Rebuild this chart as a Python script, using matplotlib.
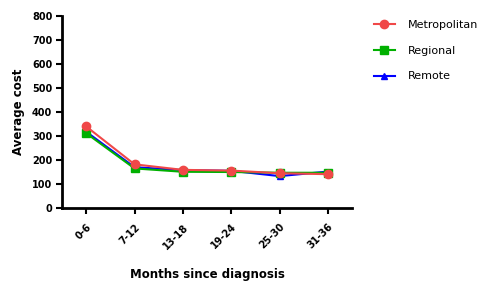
import matplotlib
matplotlib.use("Agg")
import matplotlib.pyplot as plt
import numpy as np

periods = ["0-6", "7-12", "13-18", "19-24", "25-30", "31-36"]
metropolitan = [340, 182, 159, 156, 145, 141]
regional = [312, 165, 151, 150, 147, 147]
remote = [318, 170, 158, 155, 133, 152]

plt.rcParams["font.family"] = ["DejaVu Sans"]

fig = plt.figure(figsize=(4.96, 2.83), dpi=100)
ax = fig.add_axes([0.125, 0.265, 0.585, 0.678])

x = np.arange(len(periods))
ax.plot(x, remote, color="#0000ff", marker="^", markersize=5, linewidth=1.5, label="Remote", zorder=3)
ax.plot(x, regional, color="#00b000", marker="s", markersize=5.5, linewidth=1.5, label="Regional", zorder=4)
ax.plot(x, metropolitan, color="#f04848", marker="o", markersize=6, linewidth=1.5, label="Metropolitan", zorder=5)

ax.set_xlim(-0.5, len(periods) - 0.5)
ax.set_ylim(0, 800)
ax.set_yticks(range(0, 801, 100))
ax.set_xticks(x)
ax.set_xticklabels(periods, rotation=45, ha="right", rotation_mode="anchor")
for lab in ax.get_xticklabels() + ax.get_yticklabels():
    lab.set_fontweight("bold")
    lab.set_fontsize(7)

for side in ["top", "right"]:
    ax.spines[side].set_visible(False)
for side in ["left", "bottom"]:
    ax.spines[side].set_linewidth(2)
ax.tick_params(width=1.5, length=4, pad=3)
ax.tick_params(axis="x", pad=6)

ax.set_ylabel("Average cost", fontsize=8.5, fontweight="bold", labelpad=5)
ax.set_xlabel("Months since diagnosis", fontsize=8.5, fontweight="bold", labelpad=12)

handles, labels = ax.get_legend_handles_labels()
ax.legend(handles[::-1], labels[::-1], loc="upper left", bbox_to_anchor=(1.04, 1.03),
          frameon=False, fontsize=8, handlelength=1.9, handletextpad=1.2, labelspacing=1.4)

fig.savefig("out.png", dpi=100)
